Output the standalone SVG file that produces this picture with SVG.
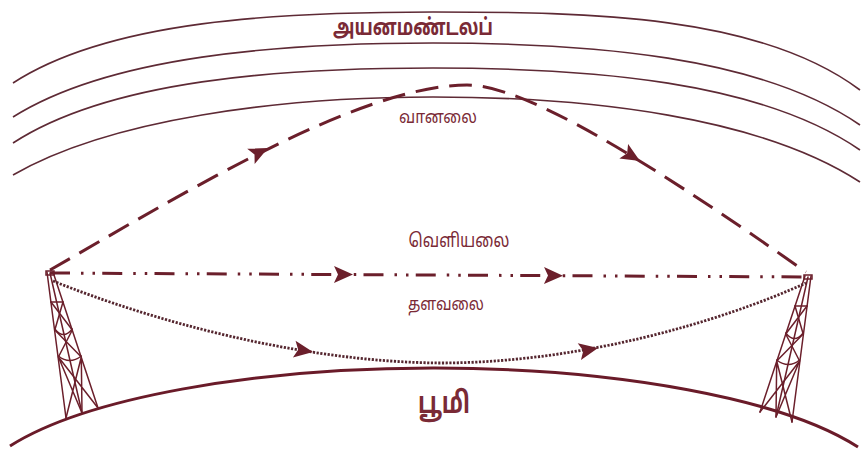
<svg xmlns="http://www.w3.org/2000/svg" width="866" height="453" viewBox="0 0 866 453">
<style>
.ion{fill:none;stroke:#5e2a35;stroke-width:1.6}
.earth{fill:none;stroke:#6a1b29;stroke-width:3}
.sky{fill:none;stroke:#6b1f2b;stroke-width:3;stroke-dasharray:23 11}
.gnd{fill:none;stroke:#6b1f2b;stroke-width:3;stroke-dasharray:20 11 2.5 9 2.5 7.25}
.spc{fill:none;stroke:#55262f;stroke-width:2.8;stroke-dasharray:2.2 1.5}
.ah{fill:#6b1f2b}
.tw{fill:none;stroke:#6b1f2b;stroke-width:1.5;stroke-linecap:round}
.lbl{font-family:'Noto Sans Tamil','Noto Sans',sans-serif;fill:#7a2a36;text-anchor:middle}
</style>
<defs>
<path id="arrow" d="M0,0 L-19,-8.5 L-15,0 L-19,8.5 Z"/>
<g id="towerShape" class="tw">
<path d="M-2,0 L17,146 M1,1 L33,141 M4,0 L49,136"/>
<path d="M-3,-1 L5,-1 L5,3 L-3,3 Z"/>
<path d="M2,30 L14,30 M5.8,57 Q14.5,68 23.3,57 M9.4,84 Q20.6,93 32.3,84"/>
<path d="M2,30 L23.3,58 M14,30 L5.8,58 M5.8,58 L32.3,85 M23.3,58 L9.4,85 M9.4,85 L49,136 M32.3,85 L17,146 M9.4,85 L33,141 M32.3,85 L33,141"/>
</g>
</defs>
<g id="ionosphere">
<path class="ion" d="M13,83 C110,20 280,12 433,12 C590,12 760,15 860,90"/>
<path class="ion" d="M13,117 C110,56 280,43 433,43 C590,43 760,56 860,125"/>
<path class="ion" d="M13,143 C110,80 280,68 433,68 C590,68 760,81 860,150"/>
<path class="ion" d="M13,175 C110,119 280,97 433,97 C590,97 760,117 860,182"/>
</g>
<g id="earth">
<path class="earth" d="M10,446 A464 132 0 0 1 858,447"/>
</g>
<g id="tower-left"><use href="#towerShape" transform="translate(49,272)"/></g>
<g id="tower-right"><use href="#towerShape" transform="translate(809,276) scale(-1,1)"/></g>
<g id="connectors">
<path class="sky" d="M50,270 C170,201.6 357,85 467,85 C527,85 655,166 806,272"/>
<path class="gnd" d="M50,273 L808,277"/>
<path class="spc" d="M53,281 C150,320 300,362 440,363 C580,363 720,322 806,283"/>
<use href="#arrow" class="ah" transform="translate(268,148) rotate(-26)"/>
<use href="#arrow" class="ah" transform="translate(640,161) rotate(31)"/>
<use href="#arrow" class="ah" transform="translate(353,274.6) rotate(0.3)"/>
<use href="#arrow" class="ah" transform="translate(563,275.7) rotate(0.3)"/>
<use href="#arrow" class="ah" transform="translate(313,352) rotate(9)"/>
<use href="#arrow" class="ah" transform="translate(598,348) rotate(-11)"/>
</g>
<g id="labels">
<text class="lbl" x="413" y="35" font-size="23" font-weight="bold" textLength="160" lengthAdjust="spacingAndGlyphs">அயனமண்டலப்</text>
<text class="lbl" x="438" y="123" font-size="18" textLength="78" lengthAdjust="spacingAndGlyphs">வானலை</text>
<text class="lbl" x="459" y="247" font-size="19" textLength="101" lengthAdjust="spacingAndGlyphs">வெளியலை</text>
<text class="lbl" x="446" y="310" font-size="18" textLength="76" lengthAdjust="spacingAndGlyphs">தளவலை</text>
<text class="lbl" x="444" y="413" font-size="30" font-weight="bold" textLength="52" lengthAdjust="spacingAndGlyphs">பூமி</text>
</g>
</svg>
